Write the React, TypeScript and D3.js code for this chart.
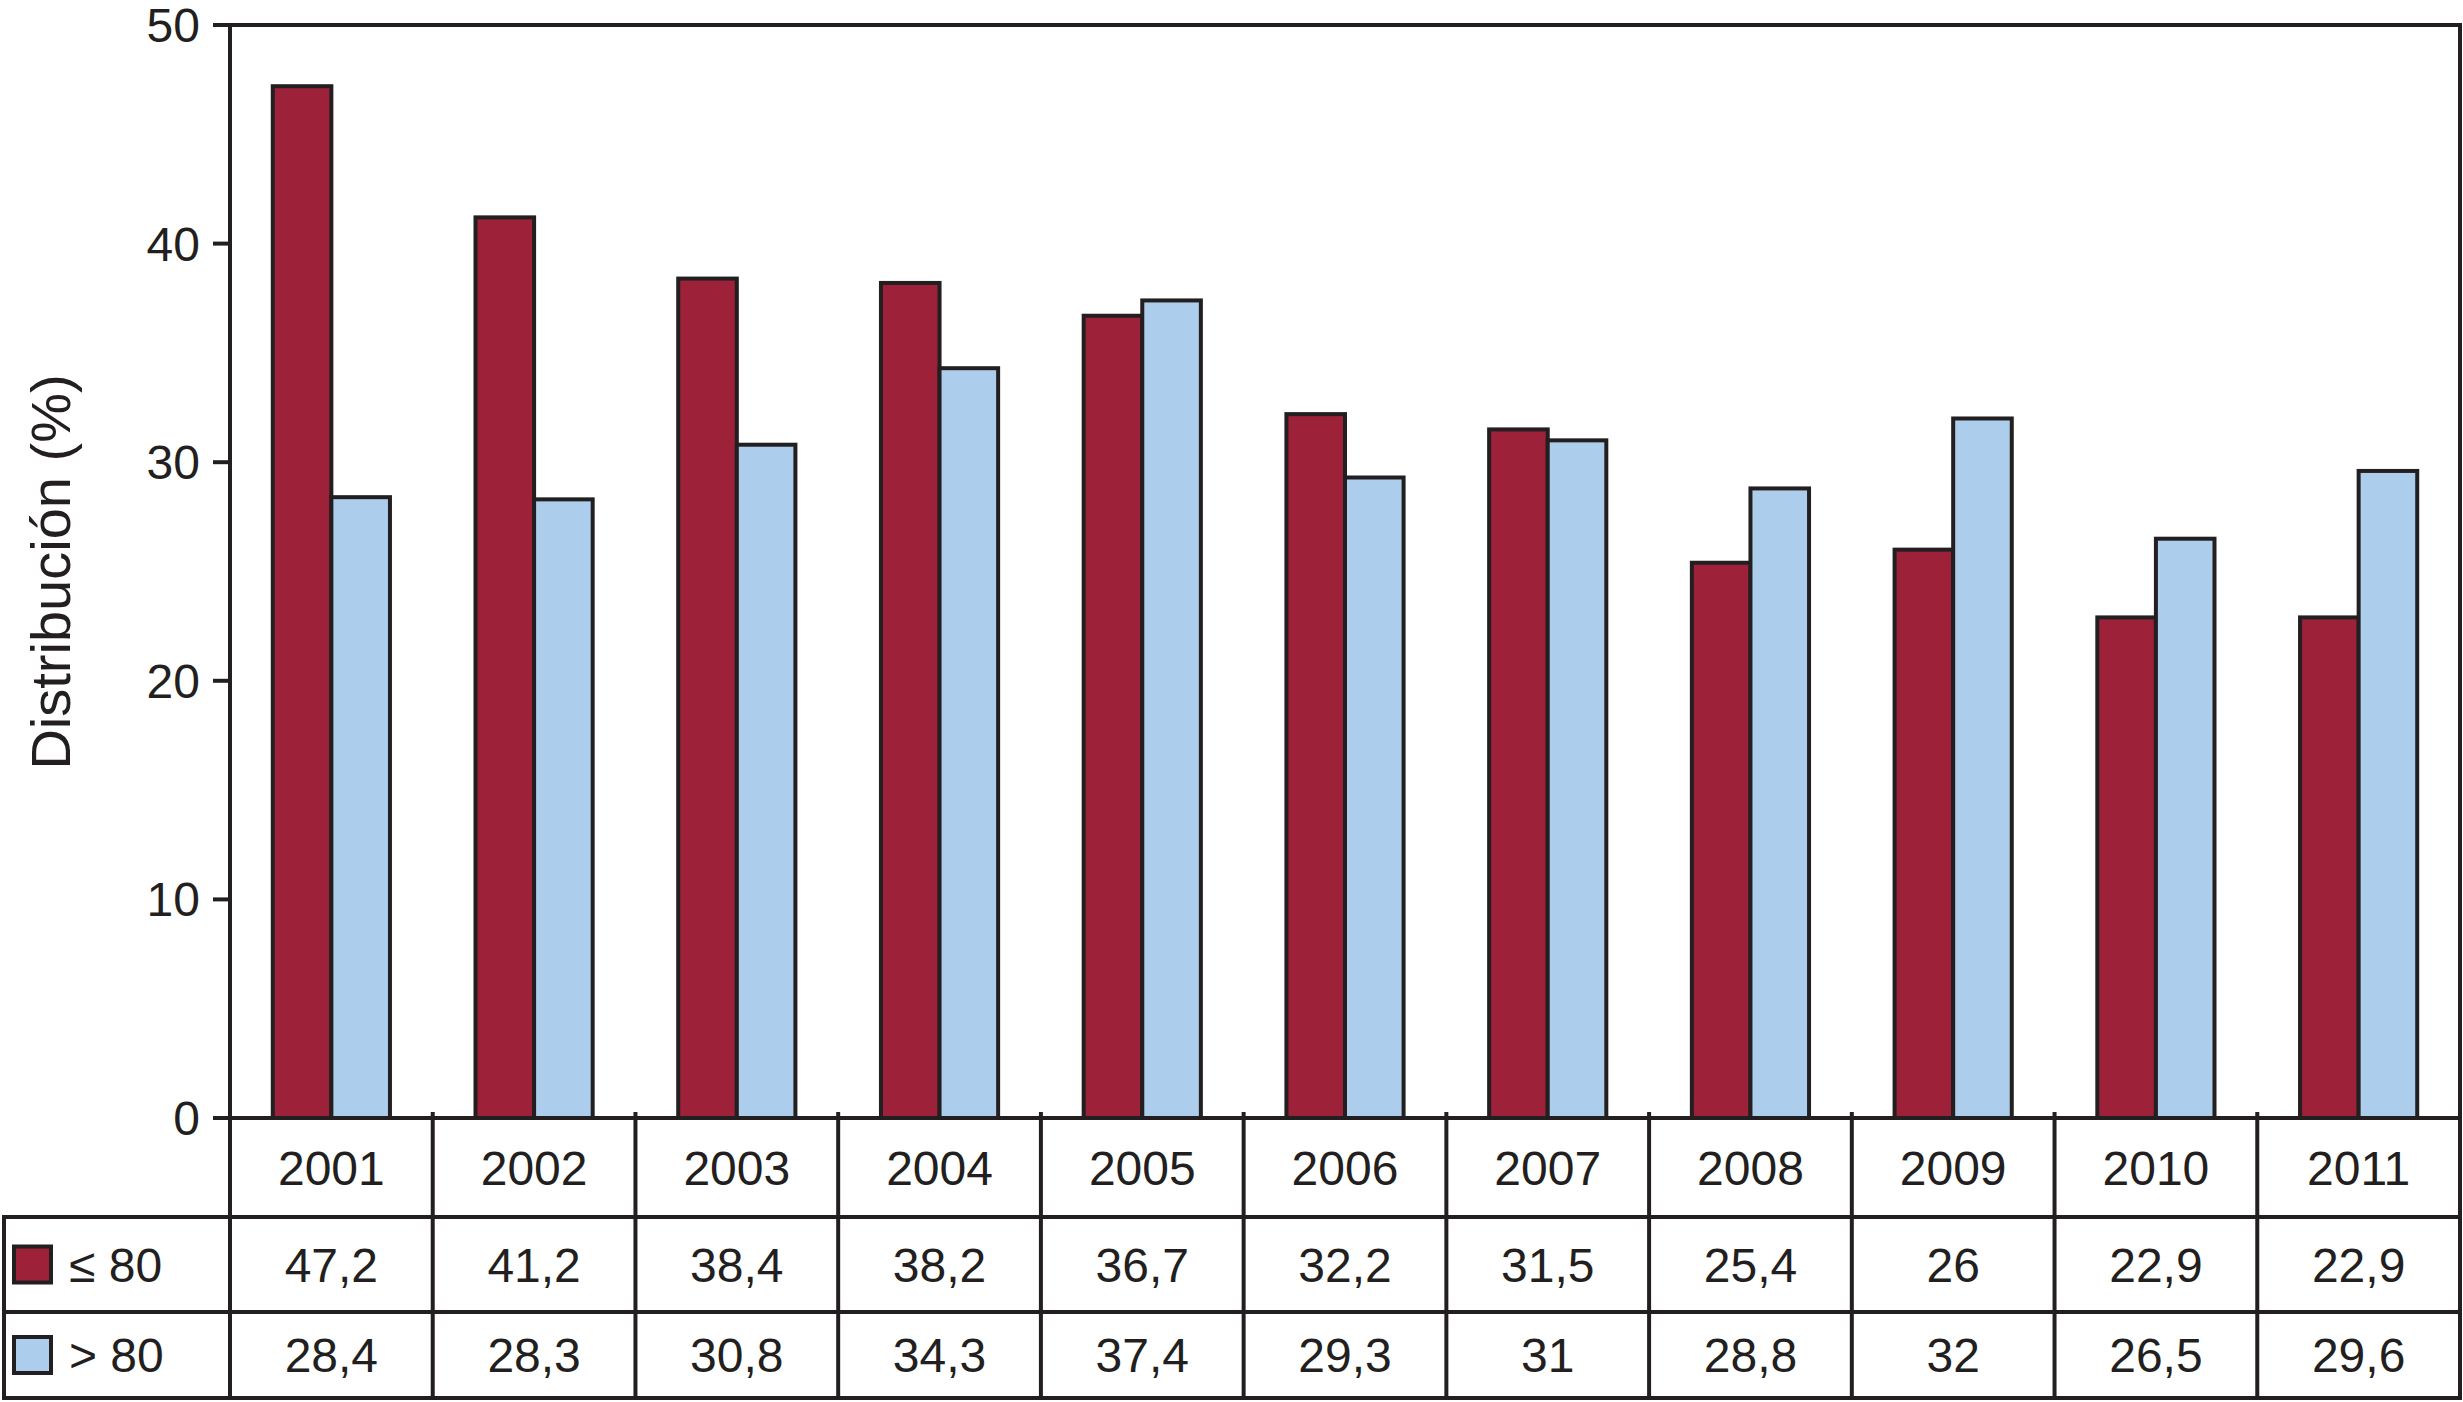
import React, { useEffect, useRef } from 'react';
import * as d3 from 'd3';

const years = ['2001', '2002', '2003', '2004', '2005', '2006', '2007', '2008', '2009', '2010', '2011'];
const seriesNames = ['≤ 80', '> 80'];
const le80 = [47.2, 41.2, 38.4, 38.2, 36.7, 32.2, 31.5, 25.4, 26, 22.9, 22.9];
const gt80 = [28.4, 28.3, 30.8, 34.3, 37.4, 29.3, 31, 28.8, 32, 26.5, 29.6];
const yTicks = [0, 10, 20, 30, 40, 50];
const colors = ['#9c2139', '#accdec'];

const W = 2463;
const H = 1402;

const App: React.FC = () => {
  const svgRef = useRef<SVGSVGElement>(null);

  useEffect(() => {
    if (!svgRef.current) return;
    const svg = d3.select(svgRef.current);
    svg.selectAll('*').remove();

    const ink = '#231f20';
    const font = '"Liberation Sans", Arial, Helvetica, sans-serif';
    const fs = 48;

    const left = 230;
    const right = 2460;
    const top = 25;
    const zeroY = 1118;
    const row1 = 1217;
    const row2 = 1312;
    const bottom = 1398;
    const legendLeft = 4;

    svg.append('rect').attr('width', W).attr('height', H).attr('fill', 'white');

    const x = d3.scaleBand<string>().domain(years).range([left, right]);
    const inner = d3.scaleBand<string>().domain(seriesNames).range([0, x.bandwidth()]).paddingOuter(0.73);
    const y = d3.scaleLinear().domain([0, 50]).range([zeroY, top]);

    const data = [le80, gt80];

    // bars
    data.forEach((vals, si) => {
      svg.append('g')
        .selectAll('rect')
        .data(vals)
        .join('rect')
        .attr('x', (_, i) => (x(years[i]) as number) + (inner(seriesNames[si]) as number))
        .attr('y', d => y(d))
        .attr('width', inner.bandwidth())
        .attr('height', d => zeroY - y(d))
        .attr('fill', colors[si])
        .attr('stroke', ink)
        .attr('stroke-width', 4);
    });

    // y axis ticks and labels
    const axis = svg.append('g');
    yTicks.forEach(t => {
      axis.append('line')
        .attr('x1', 213).attr('x2', left)
        .attr('y1', y(t)).attr('y2', y(t))
        .attr('stroke', ink).attr('stroke-width', 4);
      axis.append('text')
        .attr('x', 200).attr('y', y(t) + 17)
        .attr('text-anchor', 'end')
        .attr('font-family', font).attr('font-size', fs)
        .attr('fill', ink)
        .text(t);
    });

    // frame lines
    const lines: [number, number, number, number][] = [
      [left, top, right, top],
      [left, zeroY, right, zeroY],
      [left, top, left, bottom],
      [right, top, right, bottom],
      [legendLeft, row1, right, row1],
      [legendLeft, row2, right, row2],
      [legendLeft, bottom, right, bottom],
      [legendLeft, row1, legendLeft, bottom]
    ];
    years.forEach((yr, i) => {
      if (i > 0) lines.push([x(yr) as number, zeroY - 4, x(yr) as number, bottom]);
    });
    svg.append('g')
      .selectAll('line')
      .data(lines)
      .join('line')
      .attr('x1', d => d[0]).attr('y1', d => d[1])
      .attr('x2', d => d[2]).attr('y2', d => d[3])
      .attr('stroke', ink)
      .attr('stroke-width', 4)
      .attr('stroke-linecap', 'square');

    // table text
    const cx = (yr: string) => (x(yr) as number) + x.bandwidth() / 2;
    const table = svg.append('g')
      .attr('font-family', font).attr('font-size', fs)
      .attr('fill', ink).attr('text-anchor', 'middle');
    years.forEach(yr => {
      table.append('text').attr('x', cx(yr)).attr('y', (zeroY + row1) / 2 + 17).text(yr);
    });
    const rowCenters = [(row1 + row2) / 2, (row2 + bottom) / 2];
    data.forEach((vals, si) => {
      vals.forEach((v, i) => {
        table.append('text')
          .attr('x', cx(years[i]))
          .attr('y', rowCenters[si] + 17)
          .text(String(v).replace('.', ','));
      });
      svg.append('rect')
        .attr('x', 14).attr('y', rowCenters[si] - 18)
        .attr('width', 37).attr('height', 36)
        .attr('fill', colors[si])
        .attr('stroke', ink).attr('stroke-width', 4);
      svg.append('text')
        .attr('x', 69).attr('y', rowCenters[si] + 17)
        .attr('font-family', font).attr('font-size', fs)
        .attr('fill', ink)
        .text(seriesNames[si]);
    });

    // y axis title
    svg.append('text')
      .attr('transform', `translate(70,572) rotate(-90)`)
      .attr('text-anchor', 'middle')
      .attr('font-family', font).attr('font-size', 56)
      .attr('fill', ink)
      .text('Distribución (%)');
  }, []);

  return (
    <svg
      ref={svgRef}
      width={W}
      height={H}
      style={{ position: 'absolute', left: 0, top: 0 }}
    />
  );
};

export default App;
